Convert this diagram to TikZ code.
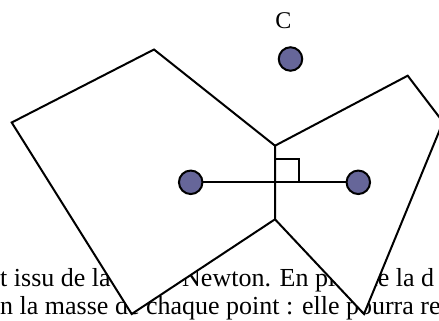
\documentclass[tikz,border=0pt]{standalone}
\usepackage{fontspec}
\setmainfont{Liberation Serif}
\definecolor{ballc}{RGB}{102,102,153}
\begin{document}
\begin{tikzpicture}[x=1pt,y=-1pt,
  edge/.style={line width=2pt, line join=miter},
  ball/.style={circle, draw, line width=2pt, fill=ballc, minimum size=23.5pt, inner sep=0pt},
  txt/.style={anchor=base west, inner sep=0pt, font=\fontsize{26}{28}\selectfont},
  lbl/.style={inner sep=0pt, font=\fontsize{24}{26}\selectfont}]
\useasboundingbox (0,0) rectangle (439,321);
\clip (0,0) rectangle (439,321);
% background text (partly hidden by the white polygons)
\node[txt] (line1) at (0,286.5) {t issu de la loi de Newton. En plus de la d};
\node[txt] (line2) at (0,314.5) {n la masse de chaque point : elle pourra re};
% polygon corners
\coordinate (M) at (275,145.7);
\coordinate (N) at (275,219.3);
\coordinate (LT) at (154,49.5);
\coordinate (LL) at (11.7,122.5);
\coordinate (LB) at (131.7,314);
\coordinate (RT) at (407.7,75.7);
\coordinate (RR) at (443,122);
\coordinate (RB) at (364,314);
% left and right pentagons
\filldraw[edge, fill=white] (M) -- (LT) -- (LL) -- (LB) -- (N) -- cycle;
\filldraw[edge, fill=white] (M) -- (RT) -- (RR) -- (RB) -- (N) -- cycle;
% label and points
\node[lbl] (labC) at (283.3,21) {C};
\node[ball] (C) at (290.5,59) {};
\node[ball] (P) at (190.7,182.3) {};
\node[ball] (Q) at (358.3,182.3) {};
\draw[edge] (P) -- (Q);
% right angle marker
\coordinate (S1) at (275,159);
\coordinate (S2) at (299.3,159);
\coordinate (S3) at (299.3,182.3);
\draw[edge] (S1) -- (S2) -- (S3);
\end{tikzpicture}
\end{document}
